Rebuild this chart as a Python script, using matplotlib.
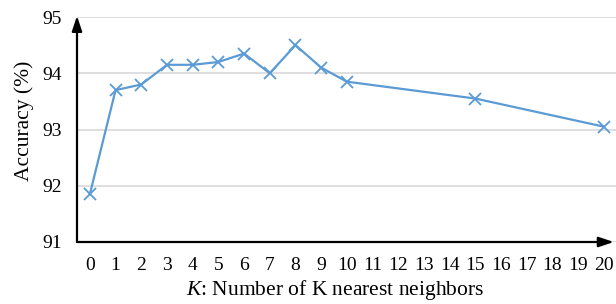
import matplotlib
matplotlib.use("Agg")
import matplotlib.pyplot as plt

k_values = [0, 1, 2, 3, 4, 5, 6, 7, 8, 9, 10, 15, 20]
accuracy = [91.85, 93.7, 93.8, 94.15, 94.15, 94.2, 94.35, 94.0, 94.5, 94.1, 93.85, 93.55, 93.05]
x_ticks = list(range(0, 21))
y_ticks = [91, 92, 93, 94, 95]

plt.rcParams['font.family'] = ['Liberation Serif', 'DejaVu Serif']
plt.rcParams['mathtext.fontset'] = 'custom'
plt.rcParams['mathtext.it'] = 'Liberation Serif:italic'
plt.rcParams['mathtext.rm'] = 'Liberation Serif'

fig = plt.figure(figsize=(6.16, 3.04), dpi=100)
ax = fig.add_axes([77/616, 62/304, 539/616, 225/304])

ax.plot(k_values, accuracy, color='#5B9BD5', linewidth=1.6, marker='x',
        markersize=9, markeredgewidth=1.3, zorder=3)

ax.set_xlim(-0.5, 20.47)
ax.set_ylim(91, 95)
ax.set_xticks(x_ticks)
ax.set_yticks(y_ticks)
ax.yaxis.grid(True, color='#d9d9d9', linewidth=1.2)
ax.set_axisbelow(True)
for s in ax.spines.values():
    s.set_visible(False)
ax.tick_params(axis='both', length=0, labelsize=14)
ax.tick_params(axis='y', pad=11)
ax.tick_params(axis='x', pad=11)

ax.annotate('', xy=(0, 1.005), xytext=(0, 0), xycoords='axes fraction',
            arrowprops=dict(arrowstyle='-|>,head_length=0.9,head_width=0.3',
                            color='black', lw=1.6, shrinkA=0, shrinkB=0), annotation_clip=False)
ax.annotate('', xy=(0.996, 0), xytext=(0, 0), xycoords='axes fraction',
            arrowprops=dict(arrowstyle='-|>,head_length=0.9,head_width=0.3',
                            color='black', lw=1.6, shrinkA=0, shrinkB=0), annotation_clip=False)

ax.set_xlabel(r'$K$: Number of K nearest neighbors', fontsize=15.5)
ax.set_ylabel('Accuracy (%)', fontsize=15.5)
ax.xaxis.set_label_coords(0.478, -0.16)
ax.yaxis.set_label_coords(-0.079, 0.54)

fig.savefig('out.png', dpi=100)
